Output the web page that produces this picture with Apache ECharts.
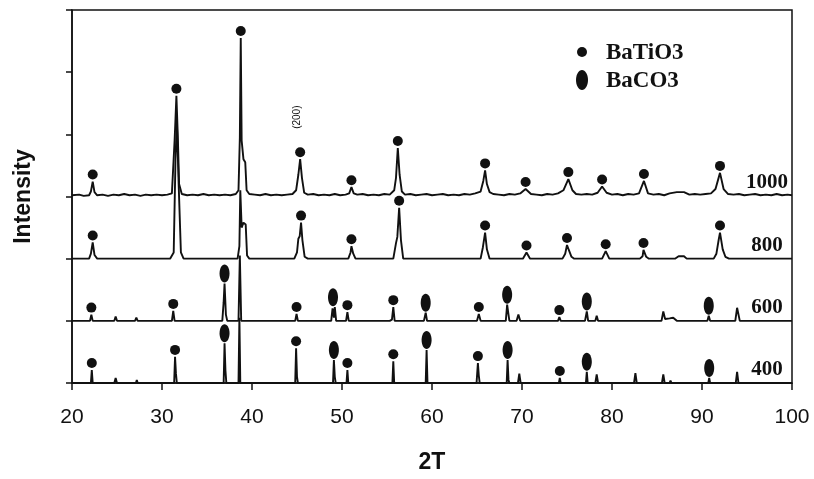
<!DOCTYPE html>
<html>
<head>
<meta charset="utf-8">
<script src="https://cdn.jsdelivr.net/npm/echarts@6/dist/echarts.min.js"></script>
<style>
  html, body { margin: 0; padding: 0; background: #fff; }
  #chart { width: 814px; height: 479px; }
</style>
</head>
<body>
<div id="chart"></div>
<script>
// Calcination temperatures, bottom pattern first
const temperatures = ['400', '600', '800', '1000'];

// Diffraction patterns: [2θ, relative intensity]
const pattern400 = [
  [20,0],[22.1,0],[22.2,0.21],[22.3,0],[24.7,0],[24.85,0.08],[25.0,0],[27.1,0],[27.2,0.05],[27.3,0],
  [31.35,0],[31.45,0.42],[31.55,0.15],[31.65,0],[36.85,0],[36.95,0.64],[37.05,0.2],[37.15,0],
  [38.5,0],[38.6,1.05],[38.7,0],[44.8,0],[44.9,0.56],[45.0,0.1],[45.1,0],[49.0,0],[49.1,0.37],[49.2,0.1],[49.3,0],
  [50.5,0],[50.6,0.21],[50.7,0],[55.6,0],[55.7,0.35],[55.8,0],[59.3,0],[59.4,0.53],[59.5,0],
  [64.95,0],[65.1,0.32],[65.2,0.12],[65.3,0],[68.3,0],[68.4,0.37],[68.5,0.05],[68.6,0],[69.55,0],[69.7,0.15],[69.85,0],
  [74.1,0],[74.2,0.08],[74.3,0],[77.1,0],[77.2,0.18],[77.3,0],[78.15,0],[78.3,0.14],[78.45,0],
  [82.45,0],[82.6,0.16],[82.75,0],[85.55,0],[85.7,0.14],[85.85,0],[86.4,0],[86.5,0.04],[86.6,0],
  [90.7,0],[90.8,0.08],[90.9,0],[93.75,0],[93.9,0.18],[94.05,0],[100,0]
];
const pattern600 = [
  [20,0],[22.0,0],[22.15,0.1],[22.3,0],[24.7,0],[24.85,0.07],[25.0,0],[27.0,0],[27.15,0.05],[27.3,0],
  [31.1,0],[31.25,0.16],[31.4,0],[36.7,0],[36.85,0.3],[36.95,0.6],[37.1,0.1],[37.25,0],[38.5,0],[38.65,1.05],[38.8,0],
  [44.8,0],[44.95,0.11],[45.1,0],[48.8,0],[48.95,0.2],[49.1,0.05],[49.2,0.22],[49.35,0],[50.45,0],[50.6,0.14],[50.75,0],
  [55.3,0],[55.45,0.03],[55.55,0.02],[55.7,0.22],[55.85,0],[59.1,0],[59.3,0.13],[59.45,0],[61.5,0],[61.6,0.02],[61.7,0],
  [65.0,0],[65.2,0.11],[65.4,0],[68.2,0],[68.35,0.26],[68.5,0.1],[68.6,0],[69.4,0],[69.6,0.1],[69.8,0],
  [74.0,0],[74.15,0.06],[74.3,0],[77.0,0],[77.2,0.15],[77.35,0],[78.15,0],[78.3,0.08],[78.45,0],
  [82.3,0],[82.5,-0.02],[82.7,0],[85.5,0],[85.7,0.15],[85.9,0.03],[86.4,0.04],[86.8,0.05],[87.2,0],
  [90.6,0],[90.75,0.08],[90.9,0],[93.7,0],[93.9,0.21],[94.2,0],[100,0]
];
const pattern800 = [
  [20,0],[21.9,0],[22.1,0.08],[22.3,0.26],[22.5,0.06],[22.8,0],[27.2,0],[27.3,0.02],[27.4,0],
  [30.9,0],[31.3,0.1],[31.5,1.6],[31.65,2.2],[31.85,1.2],[32.1,0.1],[32.4,0],
  [38.4,0],[38.6,0.2],[38.7,1.1],[38.85,0.5],[39.05,0.58],[39.3,0.55],[39.45,0.05],[39.7,0],
  [44.7,0],[45.0,0.1],[45.15,0.32],[45.3,0.36],[45.45,0.58],[45.6,0.3],[45.85,0.03],[46.2,0],
  [50.7,0],[50.95,0.1],[51.05,0.2],[51.25,0.08],[51.5,0],[55.7,0],[56.0,0.25],[56.15,0.35],[56.35,0.82],[56.55,0.3],[56.8,0],
  [65.4,0],[65.65,0.18],[65.9,0.42],[66.1,0.15],[66.4,0],[70.1,0],[70.5,0.1],[70.9,0],
  [74.5,0],[74.8,0.08],[75.0,0.22],[75.2,0.14],[75.5,0.03],[75.8,0],[78.9,0],[79.3,0.12],[79.7,0],
  [83.1,0],[83.4,0.04],[83.5,0.14],[83.8,0.03],[84.1,0],[87.0,0],[87.4,0.04],[88.0,0.04],[88.3,0],
  [91.3,0],[91.6,0.08],[91.85,0.3],[92.0,0.42],[92.3,0.15],[92.6,0.03],[93,0],[100,0]
];
const pattern1000 = [
  [20,0.02],[20.8,0.03],[21.3,0.01],[21.9,0.02],[22.1,0.08],[22.3,0.24],[22.5,0.07],[22.8,0.02],[23.4,0.03],[24,0.01],
  [24.6,0.03],[25.2,0.02],[25.8,0.04],[26.4,0.02],[27,0.03],[27.6,0.01],[28.2,0.03],[28.8,0.02],[29.4,0.03],[30,0.02],
  [30.6,0.03],[31.1,0.05],[31.4,0.9],[31.5,1.25],[31.6,1.62],[31.75,1.0],[31.9,0.2],[32.2,0.04],[32.8,0.02],[33.4,0.03],
  [34,0.02],[34.6,0.04],[35.2,0.02],[35.8,0.03],[36.4,0.02],[37,0.03],[37.6,0.02],[38.2,0.04],[38.5,0.1],[38.65,0.95],
  [38.75,2.55],[38.85,0.9],[39.05,0.6],[39.25,0.55],[39.4,0.1],[39.7,0.04],[40.3,0.03],[40.9,0.02],[41.5,0.04],[42.1,0.02],
  [42.7,0.03],[43.3,0.02],[43.9,0.03],[44.5,0.04],[44.9,0.1],[45.15,0.35],[45.35,0.6],[45.55,0.3],[45.8,0.06],[46.2,0.03],
  [46.8,0.04],[47.4,0.02],[48,0.03],[48.6,0.02],[49.2,0.04],[49.8,0.02],[50.4,0.03],[50.8,0.05],[51.05,0.15],[51.3,0.05],
  [51.7,0.03],[52.3,0.04],[52.9,0.02],[53.5,0.03],[54.1,0.02],[54.7,0.04],[55.3,0.03],[55.8,0.1],[56.0,0.3],[56.2,0.78],
  [56.4,0.35],[56.65,0.08],[57,0.03],[57.6,0.04],[58.2,0.02],[58.8,0.03],[59.4,0.04],[60,0.02],[60.6,0.03],[61.2,0.04],
  [61.8,0.02],[62.4,0.03],[63,0.02],[63.6,0.04],[64.2,0.03],[64.8,0.05],[65.4,0.08],[65.7,0.25],[65.9,0.42],[66.1,0.2],
  [66.4,0.07],[66.8,0.04],[67.4,0.03],[68,0.02],[68.6,0.04],[69.2,0.03],[69.8,0.05],[70.4,0.12],[71,0.04],[71.6,0.03],
  [72.2,0.02],[72.8,0.04],[73.4,0.03],[74,0.05],[74.6,0.1],[75.15,0.28],[75.6,0.1],[76,0.04],[76.6,0.03],[77.2,0.04],
  [77.8,0.03],[78.4,0.06],[78.9,0.16],[79.4,0.06],[80,0.03],[80.6,0.04],[81.2,0.02],[81.8,0.04],[82.4,0.03],[83,0.05],
  [83.55,0.25],[84,0.05],[84.6,0.03],[85.2,0.04],[85.8,0.02],[86.4,0.05],[87.2,0.07],[88,0.07],[88.6,0.03],[89.2,0.04],
  [89.8,0.03],[90.4,0.04],[91,0.05],[91.5,0.12],[92.0,0.38],[92.4,0.12],[92.9,0.04],[93.5,0.03],[94.1,0.04],[94.7,0.02],
  [95.3,0.03],[95.9,0.04],[96.5,0.02],[97.1,0.03],[97.7,0.02],[98.3,0.04],[98.9,0.02],[99.5,0.03],[100,0.02]
];

// Indexed reflections (2θ) for each phase and pattern
const batio3At400 = [22.2, 31.45, 44.9, 50.6, 55.7, 65.1, 74.2];
const baco3At400 = [36.95, 49.1, 59.4, 68.4, 77.2, 90.8];
const batio3At600 = [22.15, 31.25, 44.95, 50.6, 55.7, 65.2, 74.15];
const baco3At600 = [36.95, 49.0, 59.3, 68.35, 77.2, 90.75];
const batio3At800 = [22.3, 45.45, 51.05, 56.35, 65.9, 70.5, 75.0, 79.3, 83.5, 92.0];
const baco3At800 = [];
const batio3At1000 = [22.3, 31.6, 38.75, 45.35, 51.05, 56.2, 65.9, 70.4, 75.15, 78.9, 83.55, 92.0];
const baco3At1000 = [];

// Phase names shown in the key
const phaseNames = ['BaTiO3', 'BaCO3'];

// Miller index annotation on the 1000 pattern
const hklLabel = '(200)';
const hklPosition = 45.35;

const patterns = [pattern400, pattern600, pattern800, pattern1000];
const batio3Sets = [batio3At400, batio3At600, batio3At800, batio3At1000];
const baco3Sets = [baco3At400, baco3At600, baco3At800, baco3At1000];
const stackStep = 1; // vertical offset between stacked patterns

// Highest intensity of a pattern near a given 2θ
function peakTop(pattern, pos) {
  let top = 0;
  pattern.forEach(([x, y]) => { if (Math.abs(x - pos) <= 0.3 && y > top) top = y; });
  return top;
}

const ellipsePath = 'path://M0,50 C0,22 22,0 50,0 C78,0 100,22 100,50 C100,78 78,100 50,100 C22,100 0,78 0,50 Z';
const ink = '#111';
const serif = 'Liberation Serif, Times New Roman, serif';
const sans = 'Liberation Sans, Arial, sans-serif';

const series = [];
patterns.forEach((p, i) => {
  const off = i * stackStep;
  const s = {
    name: temperatures[i],
    type: 'line',
    data: p.map(([x, y]) => [x, y + off]),
    showSymbol: false,
    symbol: 'none',
    silent: true,
    lineStyle: { color: ink, width: 1.9 },
    endLabel: {
      show: true,
      formatter: temperatures[i],
      color: ink,
      fontFamily: serif,
      fontWeight: 'bold',
      fontSize: 21,
      align: 'center',
      verticalAlign: 'middle',
      distance: 0,
      offset: [-25, -13]
    }
  };
  if (i === 3) {
    s.markPoint = {
      symbol: 'circle',
      symbolSize: 0,
      silent: true,
      data: [{ coord: [hklPosition, peakTop(p, hklPosition) + off] }],
      label: {
        show: true,
        formatter: hklLabel,
        position: 'inside',
        rotate: 90,
        offset: [42, -3],
        color: ink,
        fontFamily: sans,
        fontSize: 10
      }
    };
  }
  series.push(s);
});

const tiMarks = [];
const coMarks = [];
patterns.forEach((p, i) => {
  batio3Sets[i].forEach(pos => tiMarks.push([pos, peakTop(p, pos) + i * stackStep]));
  baco3Sets[i].forEach(pos => coMarks.push([pos, peakTop(p, pos) + i * stackStep]));
});

series.push({
  name: phaseNames[0],
  type: 'scatter',
  data: tiMarks,
  symbol: 'circle',
  symbolSize: 10,
  symbolOffset: [0, -7],
  itemStyle: { color: ink, opacity: 1 },
  silent: true,
  z: 3
});
series.push({
  name: phaseNames[1],
  type: 'scatter',
  data: coMarks,
  symbol: ellipsePath,
  symbolSize: [10, 18],
  symbolOffset: [0, -10],
  itemStyle: { color: ink, opacity: 1 },
  silent: true,
  z: 3
});

// Key: phase symbols with their names
const keyText = {
  fill: ink, font: 'bold 23px ' + serif, verticalAlign: 'middle', align: 'left'
};
const graphic = [
  { type: 'circle', shape: { cx: 582, cy: 52, r: 5 }, style: { fill: ink }, silent: true },
  { type: 'ellipse', shape: { cx: 582, cy: 80, rx: 6, ry: 10 }, style: { fill: ink }, silent: true },
  { type: 'text', x: 606, y: 53, style: Object.assign({ text: phaseNames[0] }, keyText), silent: true },
  { type: 'text', x: 606, y: 81, style: Object.assign({ text: phaseNames[1] }, keyText), silent: true }
];

const chart = echarts.init(document.getElementById('chart'), null, { renderer: 'canvas' });
chart.setOption({
  animation: false,
  backgroundColor: '#fff',
  grid: {
    left: 72, right: 22, top: 10, bottom: 95,
    show: true, borderColor: ink, borderWidth: 1.5, backgroundColor: 'transparent'
  },
  graphic: graphic,
  xAxis: {
    type: 'value',
    min: 20, max: 100, interval: 10,
    name: '2T',
    nameLocation: 'middle',
    nameGap: 68,
    nameTextStyle: { color: ink, fontFamily: sans, fontWeight: 'bold', fontSize: 23 },
    axisLine: { lineStyle: { color: ink, width: 1.5 } },
    axisTick: { show: true, inside: false, length: 7, lineStyle: { color: ink, width: 1.5 } },
    axisLabel: { color: ink, margin: 24, fontSize: 21, fontFamily: sans },
    splitLine: { show: false }
  },
  yAxis: {
    type: 'value',
    min: 0, max: 6, interval: 1,
    name: 'Intensity',
    nameLocation: 'middle',
    nameGap: 37,
    nameTextStyle: { color: ink, fontFamily: sans, fontWeight: 'bold', fontSize: 23 },
    axisLine: { show: true, lineStyle: { color: ink, width: 1.5 } },
    axisTick: { show: true, inside: false, length: 6, lineStyle: { color: ink, width: 1.5 } },
    axisLabel: { show: false },
    splitLine: { show: false }
  },
  series: series
});
</script>
</body>
</html>
